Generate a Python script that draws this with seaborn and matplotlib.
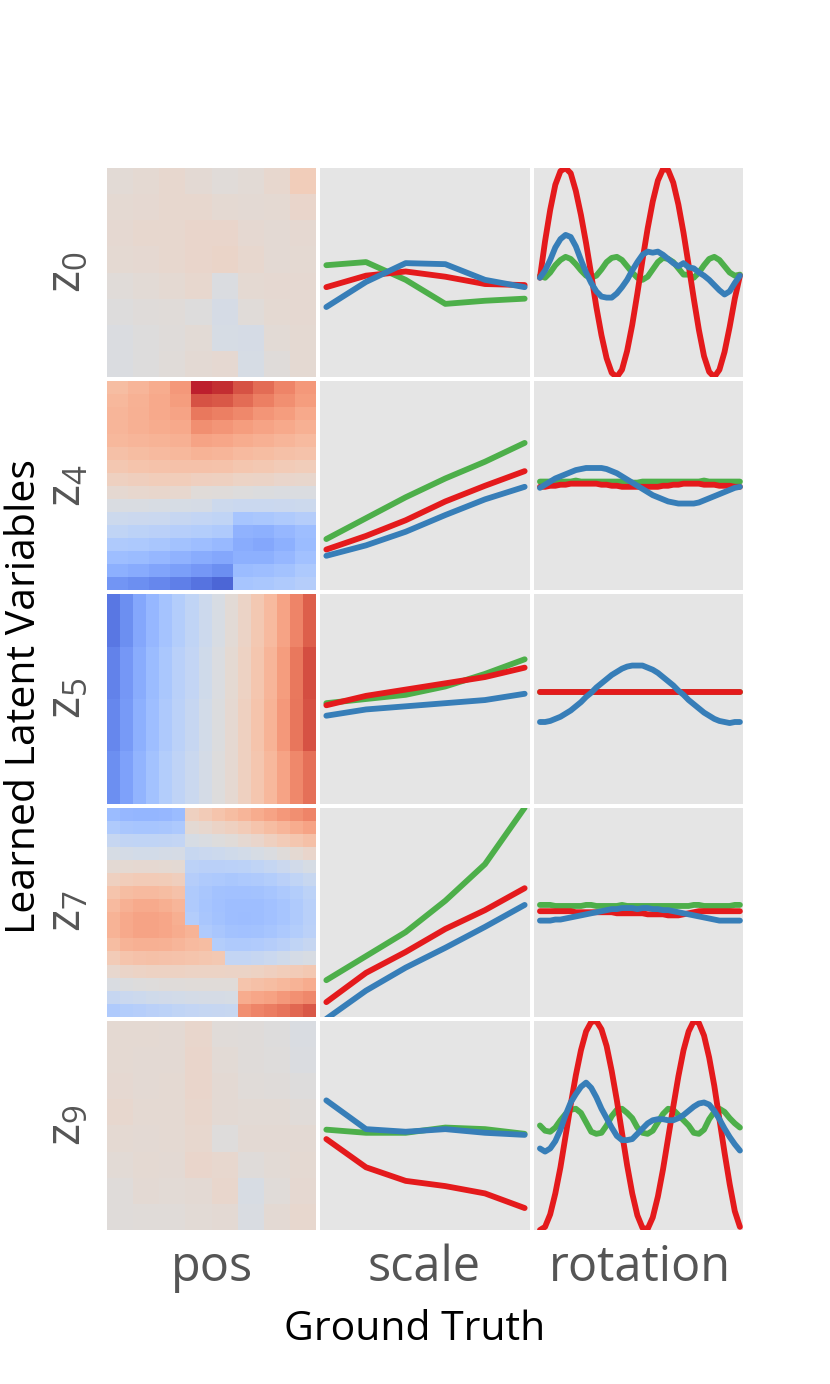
import numpy as np
import pandas as pd
import matplotlib
matplotlib.use('Agg')
import matplotlib.pyplot as plt
import seaborn as sns

# latent variables (rows) and ground truth factors (columns)
latents = ['$z_0$', '$z_4$', '$z_5$', '$z_7$', '$z_9$']
factors = ['pos', 'scale', 'rotation']
shapes = ['square', 'ellipse', 'heart']
shape_colors = {'square': '#4daf4a', 'ellipse': '#e41a1c', 'heart': '#377eb8'}

scale_values = [0.5, 0.6, 0.7, 0.8, 0.9, 1.0]
rotation_steps = np.arange(40)

# --- pos: mean latent value over the (x, y) position grid ---
pos_z0 = [[0.04, 0.06, 0.08, 0.05, 0.03, 0.04, 0.08, 0.18],
          [0.06, 0.07, 0.08, 0.08, 0.06, 0.05, 0.06, 0.10],
          [0.07, 0.08, 0.08, 0.10, 0.10, 0.07, 0.05, 0.07],
          [0.06, 0.07, 0.08, 0.10, 0.11, 0.08, 0.05, 0.06],
          [0.03, 0.04, 0.06, 0.08, -0.02, 0.06, 0.07, 0.07],
          [0.00, 0.02, 0.03, 0.00, -0.06, 0.03, 0.06, 0.07],
          [-0.02, 0.00, 0.02, 0.04, -0.05, -0.06, 0.04, 0.06],
          [-0.02, 0.00, 0.03, 0.05, 0.07, -0.05, 0.02, 0.06]]

pos_z4 = [[0.30, 0.35, 0.40, 0.50, 0.95, 0.92, 0.80, 0.70, 0.60, 0.50],
          [0.33, 0.37, 0.42, 0.48, 0.80, 0.78, 0.70, 0.62, 0.55, 0.48],
          [0.35, 0.38, 0.42, 0.45, 0.65, 0.62, 0.58, 0.52, 0.48, 0.42],
          [0.35, 0.38, 0.40, 0.42, 0.55, 0.52, 0.48, 0.45, 0.42, 0.38],
          [0.33, 0.35, 0.36, 0.38, 0.45, 0.43, 0.40, 0.38, 0.35, 0.32],
          [0.28, 0.30, 0.32, 0.33, 0.36, 0.35, 0.32, 0.30, 0.28, 0.26],
          [0.23, 0.25, 0.26, 0.27, 0.27, 0.26, 0.24, 0.22, 0.20, 0.18],
          [0.15, 0.17, 0.18, 0.18, 0.16, 0.15, 0.13, 0.12, 0.10, 0.09],
          [0.07, 0.08, 0.09, 0.08, 0.03, 0.02, 0.00, -0.01, -0.02, -0.02],
          [-0.03, -0.03, -0.04, -0.05, -0.06, -0.12, -0.14, -0.14, -0.13, -0.12],
          [-0.12, -0.13, -0.14, -0.16, -0.18, -0.20, -0.35, -0.33, -0.30, -0.27],
          [-0.20, -0.22, -0.24, -0.26, -0.28, -0.30, -0.48, -0.50, -0.45, -0.40],
          [-0.30, -0.32, -0.34, -0.37, -0.40, -0.43, -0.52, -0.55, -0.50, -0.42],
          [-0.40, -0.42, -0.45, -0.48, -0.52, -0.55, -0.50, -0.50, -0.45, -0.38],
          [-0.50, -0.53, -0.57, -0.60, -0.64, -0.68, -0.42, -0.40, -0.37, -0.32],
          [-0.65, -0.68, -0.72, -0.76, -0.82, -0.88, -0.35, -0.33, -0.30, -0.27]]

pos_z5 = [[-0.80, -0.68, -0.55, -0.45, -0.36, -0.28, -0.20, -0.12, -0.04, 0.04, 0.12, 0.22, 0.32, 0.45, 0.60, 0.75],
          [-0.75, -0.64, -0.52, -0.42, -0.33, -0.25, -0.18, -0.10, -0.02, 0.06, 0.14, 0.24, 0.35, 0.48, 0.65, 0.82],
          [-0.72, -0.62, -0.50, -0.40, -0.31, -0.23, -0.16, -0.08, -0.01, 0.07, 0.15, 0.25, 0.36, 0.50, 0.66, 0.80],
          [-0.68, -0.58, -0.47, -0.37, -0.28, -0.21, -0.14, -0.07, 0.00, 0.07, 0.15, 0.24, 0.33, 0.45, 0.58, 0.68]]

pos_z7 = [[-0.42, -0.45, -0.46, -0.46, -0.45, -0.42, 0.15, 0.20, 0.25, 0.30, 0.35, 0.40, 0.45, 0.50, 0.55, 0.60],
          [-0.30, -0.34, -0.35, -0.35, -0.34, -0.32, 0.05, 0.08, 0.12, 0.15, 0.20, 0.25, 0.30, 0.35, 0.40, 0.45],
          [-0.16, -0.19, -0.20, -0.20, -0.19, -0.18, -0.05, -0.03, 0.00, 0.03, 0.07, 0.10, 0.15, 0.20, 0.24, 0.28],
          [-0.05, -0.07, -0.08, -0.08, -0.07, -0.06, -0.15, -0.14, -0.12, -0.10, -0.08, -0.05, -0.02, 0.02, 0.06, 0.10],
          [0.05, 0.06, 0.07, 0.07, 0.06, 0.05, -0.22, -0.24, -0.24, -0.23, -0.22, -0.20, -0.17, -0.13, -0.09, -0.05],
          [0.15, 0.18, 0.20, 0.20, 0.19, 0.17, -0.27, -0.30, -0.32, -0.33, -0.32, -0.30, -0.28, -0.24, -0.20, -0.15],
          [0.25, 0.30, 0.32, 0.32, 0.30, 0.27, -0.30, -0.34, -0.37, -0.38, -0.38, -0.37, -0.35, -0.32, -0.28, -0.22],
          [0.32, 0.38, 0.41, 0.41, 0.39, 0.35, -0.30, -0.35, -0.38, -0.40, -0.40, -0.40, -0.38, -0.35, -0.30, -0.25],
          [0.36, 0.42, 0.45, 0.45, 0.43, 0.39, -0.28, -0.34, -0.37, -0.40, -0.41, -0.40, -0.38, -0.35, -0.30, -0.25],
          [0.36, 0.42, 0.45, 0.45, 0.43, 0.40, 0.36, -0.30, -0.34, -0.37, -0.38, -0.37, -0.35, -0.32, -0.28, -0.23],
          [0.30, 0.36, 0.38, 0.38, 0.37, 0.35, 0.32, 0.30, -0.28, -0.30, -0.30, -0.29, -0.27, -0.24, -0.20, -0.16],
          [0.20, 0.25, 0.27, 0.28, 0.27, 0.26, 0.25, 0.24, 0.22, -0.18, -0.18, -0.16, -0.14, -0.10, -0.07, -0.04],
          [0.08, 0.11, 0.13, 0.14, 0.14, 0.14, 0.13, 0.13, 0.13, 0.12, 0.12, 0.14, 0.16, 0.18, 0.20, 0.22],
          [-0.03, -0.01, 0.00, 0.01, 0.02, 0.02, 0.03, 0.03, 0.03, 0.03, 0.25, 0.28, 0.30, 0.33, 0.36, 0.40],
          [-0.16, -0.14, -0.12, -0.10, -0.09, -0.08, -0.07, -0.06, -0.06, -0.05, 0.40, 0.43, 0.46, 0.50, 0.54, 0.58],
          [-0.30, -0.28, -0.26, -0.24, -0.22, -0.20, -0.18, -0.17, -0.16, -0.15, 0.55, 0.60, 0.63, 0.67, 0.72, 0.78]]

pos_z9 = [[0.06, 0.06, 0.05, 0.09, 0.03, 0.02, 0.00, -0.03],
          [0.06, 0.05, 0.05, 0.10, 0.04, 0.02, 0.01, -0.02],
          [0.07, 0.05, 0.06, 0.10, 0.05, 0.03, 0.02, 0.00],
          [0.08, 0.06, 0.06, 0.09, 0.05, 0.04, 0.04, 0.03],
          [0.06, 0.05, 0.06, 0.08, 0.01, 0.05, 0.05, 0.05],
          [0.04, 0.06, 0.05, 0.10, 0.08, 0.02, 0.04, 0.06],
          [0.02, 0.05, 0.04, 0.05, 0.09, -0.04, 0.03, 0.07],
          [0.02, 0.03, 0.03, 0.04, 0.05, -0.03, 0.05, 0.08]]

# --- scale: mean latent value per shape ---
scale_z0_square = [0.07, 0.10, -0.07, -0.30, -0.27, -0.25]
scale_z0_ellipse = [-0.14, -0.03, 0.01, -0.04, -0.11, -0.12]
scale_z0_heart = [-0.33, -0.09, 0.09, 0.08, -0.07, -0.14]

scale_z4_square = [-0.51, -0.31, -0.11, 0.07, 0.23, 0.41]
scale_z4_ellipse = [-0.61, -0.48, -0.33, -0.15, 0.00, 0.14]
scale_z4_heart = [-0.67, -0.57, -0.44, -0.28, -0.13, -0.01]

scale_z5_square = [-0.04, 0.00, 0.04, 0.12, 0.24, 0.38]
scale_z5_ellipse = [-0.06, 0.03, 0.09, 0.15, 0.21, 0.30]
scale_z5_heart = [-0.16, -0.10, -0.07, -0.04, -0.01, 0.05]

scale_z7_square = [-0.65, -0.42, -0.19, 0.11, 0.46, 1.00]
scale_z7_ellipse = [-0.86, -0.58, -0.38, -0.16, 0.02, 0.23]
scale_z7_heart = [-1.02, -0.75, -0.53, -0.34, -0.14, 0.07]

scale_z9_square = [-0.04, -0.07, -0.07, -0.02, -0.035, -0.08]
scale_z9_ellipse = [-0.13, -0.40, -0.53, -0.58, -0.65, -0.79]
scale_z9_heart = [0.24, -0.035, -0.06, -0.035, -0.07, -0.09]

# --- rotation: mean latent value per shape ---
rot_z0_square = [-0.03, -0.05, 0.00, 0.07, 0.12, 0.15, 0.13, 0.08, 0.02, -0.03,
                 -0.05, -0.03, 0.03, 0.10, 0.14, 0.15, 0.12, 0.06, 0.00, -0.05,
                 -0.07, -0.04, 0.03, 0.10, 0.14, 0.13, 0.10, 0.04, -0.02, -0.02,
                 -0.05, 0.00, 0.07, 0.13, 0.15, 0.12, 0.06, 0.00, -0.03, -0.02]
rot_z0_ellipse = [-0.05, 0.30, 0.60, 0.84, 0.97, 1.00, 0.95, 0.78, 0.55, 0.28,
                  -0.02, -0.33, -0.60, -0.82, -0.96, -1.00, -0.93, -0.75, -0.50, -0.20,
                  0.12, 0.42, 0.68, 0.88, 0.99, 0.98, 0.86, 0.65, 0.38, 0.07,
                  -0.25, -0.55, -0.80, -0.95, -1.00, -0.93, -0.76, -0.52, -0.25, -0.03]
rot_z0_heart = [-0.05, 0.02, 0.12, 0.24, 0.32, 0.36, 0.34, 0.25, 0.12, 0.00,
                -0.10, -0.18, -0.23, -0.24, -0.24, -0.20, -0.14, -0.07, 0.02, 0.10,
                0.17, 0.20, 0.19, 0.20, 0.17, 0.13, 0.09, 0.06, 0.09, 0.05,
                0.04, 0.00, -0.03, -0.07, -0.12, -0.17, -0.21, -0.18, -0.10, -0.03]

rot_z4_square = [0.04, 0.04, 0.04, 0.04, 0.04, 0.04, 0.04, 0.05, 0.04, 0.04,
                 0.04, 0.04, 0.04, 0.04, 0.04, 0.04, 0.04, 0.04, 0.03, 0.03,
                 0.04, 0.04, 0.04, 0.04, 0.04, 0.04, 0.04, 0.04, 0.04, 0.04,
                 0.04, 0.04, 0.05, 0.04, 0.04, 0.04, 0.04, 0.04, 0.04, 0.04]
rot_z4_ellipse = [-0.01, -0.01, 0.00, 0.00, 0.01, 0.01, 0.02, 0.02, 0.02, 0.02,
                  0.02, 0.02, 0.01, 0.01, 0.00, 0.00, -0.01, -0.01, -0.01, -0.01,
                  -0.01, -0.01, -0.01, -0.01, 0.00, 0.00, 0.01, 0.01, 0.02, 0.02,
                  0.02, 0.02, 0.01, 0.01, 0.01, 0.00, 0.00, 0.00, -0.01, -0.01]
rot_z4_heart = [-0.02, 0.01, 0.04, 0.07, 0.09, 0.11, 0.13, 0.15, 0.16, 0.17,
                0.17, 0.17, 0.17, 0.16, 0.14, 0.12, 0.09, 0.06, 0.03, 0.00,
                -0.03, -0.06, -0.09, -0.11, -0.13, -0.15, -0.16, -0.17, -0.17, -0.17,
                -0.17, -0.16, -0.14, -0.12, -0.10, -0.08, -0.06, -0.04, -0.02, -0.01]

rot_z5_square = [0.068, 0.068, 0.068, 0.068, 0.068, 0.068, 0.068, 0.068, 0.068, 0.068,
                 0.068, 0.068, 0.068, 0.068, 0.068, 0.068, 0.068, 0.068, 0.068, 0.068,
                 0.068, 0.068, 0.068, 0.068, 0.068, 0.068, 0.068, 0.068, 0.068, 0.068,
                 0.068, 0.068, 0.068, 0.068, 0.068, 0.068, 0.068, 0.068, 0.068, 0.068]
rot_z5_ellipse = [0.07, 0.07, 0.07, 0.07, 0.07, 0.07, 0.07, 0.07, 0.07, 0.07,
                  0.07, 0.07, 0.07, 0.07, 0.07, 0.07, 0.07, 0.07, 0.07, 0.07,
                  0.07, 0.07, 0.07, 0.07, 0.07, 0.07, 0.07, 0.07, 0.07, 0.07,
                  0.07, 0.07, 0.07, 0.07, 0.07, 0.07, 0.07, 0.07, 0.07, 0.07]
rot_z5_heart = [-0.22, -0.22, -0.21, -0.19, -0.17, -0.14, -0.11, -0.07, -0.03, 0.02,
                0.06, 0.11, 0.15, 0.19, 0.23, 0.26, 0.29, 0.31, 0.32, 0.32,
                0.32, 0.30, 0.28, 0.25, 0.21, 0.17, 0.13, 0.08, 0.04, -0.01,
                -0.05, -0.09, -0.13, -0.16, -0.19, -0.21, -0.22, -0.23, -0.22, -0.22]

rot_z7_square = [0.07, 0.07, 0.07, 0.06, 0.06, 0.06, 0.06, 0.06, 0.06, 0.07,
                 0.07, 0.06, 0.06, 0.06, 0.06, 0.06, 0.07, 0.06, 0.06, 0.06,
                 0.06, 0.06, 0.06, 0.06, 0.06, 0.06, 0.06, 0.06, 0.06, 0.06,
                 0.07, 0.07, 0.06, 0.06, 0.06, 0.06, 0.06, 0.06, 0.07, 0.07]
rot_z7_ellipse = [0.01, 0.01, 0.01, 0.01, 0.01, 0.01, 0.01, 0.00, 0.00, 0.00,
                  0.00, 0.00, 0.00, 0.00, 0.00, -0.01, -0.01, -0.01, -0.01, -0.01,
                  -0.01, -0.02, -0.02, -0.02, -0.02, -0.03, -0.03, -0.03, -0.02, -0.01,
                  0.00, 0.01, 0.01, 0.01, 0.01, 0.01, 0.01, 0.01, 0.01, 0.01]
rot_z7_heart = [-0.08, -0.08, -0.08, -0.07, -0.07, -0.06, -0.05, -0.04, -0.03, -0.02,
                -0.01, 0.00, 0.01, 0.02, 0.03, 0.03, 0.04, 0.04, 0.04, 0.03,
                0.04, 0.04, 0.03, 0.03, 0.02, 0.02, 0.01, 0.00, -0.01, -0.02,
                -0.03, -0.04, -0.05, -0.06, -0.07, -0.08, -0.08, -0.08, -0.08, -0.08]

rot_z9_square = [0.00, -0.05, -0.06, -0.02, 0.05, 0.11, 0.15, 0.16, 0.12, 0.03,
                 -0.06, -0.08, -0.07, 0.00, 0.09, 0.15, 0.16, 0.12, 0.07, -0.02,
                 -0.07, -0.08, -0.05, 0.03, 0.11, 0.16, 0.15, 0.10, 0.05, 0.00,
                 -0.07, -0.08, -0.04, 0.06, 0.13, 0.16, 0.13, 0.07, 0.02, -0.02]
rot_z9_ellipse = [-1.00, -0.97, -0.85, -0.65, -0.40, -0.10, 0.20, 0.48, 0.72, 0.90,
                  0.99, 1.00, 0.92, 0.76, 0.52, 0.24, -0.07, -0.38, -0.65, -0.86,
                  -0.98, -0.99, -0.88, -0.68, -0.42, -0.12, 0.18, 0.47, 0.72, 0.90,
                  1.00, 0.98, 0.86, 0.65, 0.38, 0.06, -0.26, -0.56, -0.82, -0.97]
rot_z9_heart = [-0.22, -0.25, -0.22, -0.15, -0.04, 0.10, 0.22, 0.30, 0.37, 0.41,
                0.36, 0.27, 0.16, 0.07, -0.02, -0.10, -0.14, -0.14, -0.13, -0.08,
                -0.03, 0.02, 0.05, 0.06, 0.06, 0.05, 0.05, 0.07, 0.10, 0.14,
                0.18, 0.21, 0.22, 0.20, 0.14, 0.06, -0.03, -0.11, -0.18, -0.24]

pos_maps = [pos_z0, pos_z4, pos_z5, pos_z7, pos_z9]
scale_curves = [
    [scale_z0_square, scale_z0_ellipse, scale_z0_heart],
    [scale_z4_square, scale_z4_ellipse, scale_z4_heart],
    [scale_z5_square, scale_z5_ellipse, scale_z5_heart],
    [scale_z7_square, scale_z7_ellipse, scale_z7_heart],
    [scale_z9_square, scale_z9_ellipse, scale_z9_heart],
]
rot_curves = [
    [rot_z0_square, rot_z0_ellipse, rot_z0_heart],
    [rot_z4_square, rot_z4_ellipse, rot_z4_heart],
    [rot_z5_square, rot_z5_ellipse, rot_z5_heart],
    [rot_z7_square, rot_z7_ellipse, rot_z7_heart],
    [rot_z9_square, rot_z9_ellipse, rot_z9_heart],
]


def long_df(xvals, curves):
    frames = []
    for shape, vals in zip(shapes, curves):
        frames.append(pd.DataFrame({'x': xvals, 'value': vals, 'shape': shape}))
    return pd.concat(frames).reset_index(drop = True)


sns.set_theme(style = 'white')
plt.rcParams['font.family'] = ['Open Sans', 'DejaVu Sans']
plt.rcParams['mathtext.fontset'] = 'custom'
plt.rcParams['mathtext.rm'] = 'Open Sans'
plt.rcParams['mathtext.it'] = 'Open Sans'
plt.rcParams['mathtext.default'] = 'regular'

fig = plt.figure(figsize = (8.3, 13.84), dpi = 100)
gs = fig.add_gridspec(5, 3, left = 107 / 830, right = 743 / 830,
                      top = 1 - 168 / 1384, bottom = 1 - 1230 / 1384,
                      wspace = 0.02, hspace = 0.02)

grey_txt = '#555555'
line_w = 4.2

for r in range(5):
    # position heatmap
    ax = fig.add_subplot(gs[r, 0])
    sns.heatmap(np.array(pos_maps[r]), ax = ax, cmap = 'coolwarm', vmin = -1, vmax = 1,
                cbar = False, xticklabels = False, yticklabels = False)

    # scale curves
    ax = fig.add_subplot(gs[r, 1])
    sns.lineplot(data = long_df(scale_values, scale_curves[r]), x = 'x', y = 'value',
                 hue = 'shape', hue_order = shapes, palette = shape_colors,
                 lw = line_w, legend = False, ax = ax)
    ax.set(xlim = (0.485, 1.0125), ylim = (-1, 1))

    # rotation curves
    ax = fig.add_subplot(gs[r, 2])
    sns.lineplot(data = long_df(rotation_steps, rot_curves[r]), x = 'x', y = 'value',
                 hue = 'shape', hue_order = shapes, palette = shape_colors,
                 lw = line_w, legend = False, ax = ax)
    ax.set(xlim = (-1.2, 39.6), ylim = (-1, 1))

for ax in fig.axes:
    ax.set_facecolor('#e5e5e5')
    ax.set_xticks([])
    ax.set_yticks([])
    ax.set_xlabel('')
    ax.set_ylabel('')
    for s in ax.spines.values():
        s.set_visible(False)

# row labels
row_centres = [272.5, 485.5, 698.5, 911.5, 1125]
for name, yc in zip(latents, row_centres):
    fig.text(67 / 830, 1 - yc / 1384, name, rotation = 90, ha = 'center', va = 'center',
             fontsize = 34, color = grey_txt)

# column labels
for name, xc in zip(factors, [211.5, 424.5, 640]):
    fig.text(xc / 830, 1 - 1268 / 1384, name, ha = 'center', va = 'center',
             fontsize = 35, color = grey_txt)

fig.text(415 / 830, 1 - 1330 / 1384, 'Ground Truth', ha = 'center', va = 'center',
         fontsize = 29.5, color = 'black')
fig.text(25 / 830, 1 - 697 / 1384, 'Learned Latent Variables', rotation = 90,
         ha = 'center', va = 'center', fontsize = 29.5, color = 'black')

fig.savefig('out.png', dpi = 100)
plt.close()
